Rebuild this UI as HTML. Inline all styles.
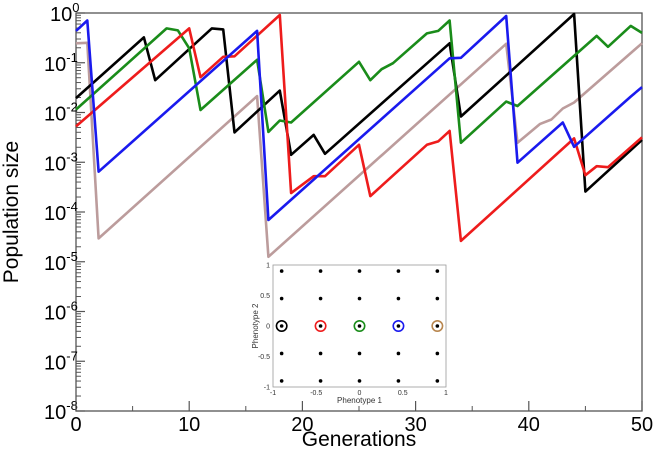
<!DOCTYPE html>
<html><head><meta charset="utf-8"><style>
body{margin:0;background:#fff;}
svg{display:block;font-family:"Liberation Sans",Arial,sans-serif;}
</style></head><body>
<svg id="chart" width="656" height="459" viewBox="0 0 656 459" xmlns="http://www.w3.org/2000/svg">
<g id="axes"></g>
<g id="series"></g>
<g id="inset"></g>
<text x="359" y="446" font-size="21" text-anchor="middle">Generations</text>
<text transform="translate(18,212) rotate(-90)" font-size="21" text-anchor="middle">Population size</text>
</svg>
<script>
// Data: generations and log10(population) breakpoints per series
const blackGen = [0,6,7,12,13,14,18,19,21,22,33,34,44,45,50];
const blackLog = [-1.71,-0.49,-1.35,-0.31,-0.33,-2.4,-1.56,-2.85,-2.45,-2.83,-0.61,-2.08,-0.02,-3.59,-2.55];
const greenGen = [0,8,9,10,11,16,17,18,19,25,26,27,28,31,32,33,34,38,39,46,47,49,50];
const greenLog = [-1.94,-0.31,-0.35,-0.71,-1.95,-0.94,-2.39,-2.16,-2.2,-0.98,-1.35,-1.13,-1.01,-0.41,-0.36,-0.15,-2.61,-1.78,-1.87,-0.46,-0.68,-0.26,-0.4];
const redGen = [0,10,11,13,14,18,19,21,22,25,26,31,32,33,34,44,45,46,47,50];
const redLog = [-2.28,-0.31,-1.29,-0.88,-0.87,-0.04,-3.62,-3.28,-3.28,-2.65,-3.68,-2.65,-2.58,-2.37,-4.58,-2.52,-3.26,-3.08,-3.1,-2.5];
const blueGen = [0,1,2,16,17,33,34,38,39,43,44,49,50];
const blueLog = [-0.36,-0.15,-3.19,-0.36,-4.16,-0.91,-0.9,-0.06,-3.01,-2.2,-2.69,-1.68,-1.49];
const tanGen = [0,1,2,16,17,38,39,41,42,43,44,50];
const tanLog = [-0.61,-0.6,-4.53,-1.67,-4.9,-0.62,-2.61,-2.23,-2.14,-1.92,-1.8,-0.61];
const xTicks = [0,10,20,30,40,50];
const yExps = [0,-1,-2,-3,-4,-5,-6,-7,-8];
const insetTicks = [-1,-0.5,0,0.5,1];
const dotPos = [-0.9,-0.45,0,0.45,0.9];

const NS="http://www.w3.org/2000/svg";
const L=76,R=642,T=13,B=411;
const xs=t=>L+(t/50)*(R-L);
const ys=v=>T+(-v/8)*(B-T);
function mk(tag,attrs,parent){const e=document.createElementNS(NS,tag);for(const k in attrs)e.setAttribute(k,attrs[k]);parent.appendChild(e);return e;}
const axes=document.getElementById('axes');
const frame=mk('rect',{x:L,y:T,width:R-L,height:B-T,fill:'none',stroke:'#555','stroke-width':1.3},axes);


// y ticks
yExps.forEach(e=>{
  const y=ys(e);
  const tk=mk('line',{x1:L,x2:L+9,y1:y,y2:y,stroke:'#555','stroke-width':1.2},axes);
  
  
  const tx=mk('text',{x:L-10,y:y+8,'font-size':20,'text-anchor':'end'},axes);
  
  
  tx.textContent='10';
  const sp=mk('tspan',{dy:-9,'font-size':13},tx);
  sp.textContent=String(e).replace('-','-');
  tx.setAttribute('x',L-26-(e<0?6:0));
  tx.setAttribute('text-anchor','start');
  if(e>-8){for(let m=2;m<=9;m++){const yy=ys(e-1+Math.log10(m));
    const mt=mk('line',{x1:L,x2:L+5,y1:yy,y2:yy,stroke:'#555','stroke-width':1},axes);
    
    }}
});
// x ticks
xTicks.forEach(t=>{
  const x=xs(t);
  const tk=mk('line',{x1:x,x2:x,y1:B,y2:B-10,stroke:'#555','stroke-width':1.2},axes);
  
  
  const tx=mk('text',{x:x,y:B+20,'font-size':20,'text-anchor':'middle'},axes);
  
  
  tx.textContent=t;
  if(t<50){const mx=xs(t+5);const mt=mk('line',{x1:mx,x2:mx,y1:B,y2:B-5,stroke:'#555','stroke-width':1},axes);
    
    }
});
// series
const sg=document.getElementById('series');
const seriesList=[['tan',tanGen,tanLog,'#bc9c9c'],['black',blackGen,blackLog,'#000'],['green',greenGen,greenLog,'#1a8c1a'],['red',redGen,redLog,'#ee1c1c'],['blue',blueGen,blueLog,'#1a1aee']];
seriesList.forEach(([n,g,v,c])=>{
  const d=g.map((t,i)=>(i?'L':'M')+xs(t).toFixed(1)+','+ys(v[i]).toFixed(1)).join('');
  const p=mk('path',{d:d,fill:'none',stroke:c,'stroke-width':2.6,'stroke-linejoin':'round'},sg);
  
  
});
// inset
const ig=document.getElementById('inset');
const IL=273,IR=446,IT=265,IB=387;
const ix=v=>IL+(v+1)/2*(IR-IL), iy=v=>IB-(v+1)/2*(IB-IT);
const bg=mk('rect',{x:IL,y:IT,width:IR-IL,height:IB-IT,fill:'#fff',stroke:'#999','stroke-width':0.8},ig);


insetTicks.forEach(t=>{
  const a=mk('text',{x:ix(t),y:IB+8,'font-size':7,'text-anchor':'middle',fill:'#333'},ig);
  
  
  a.textContent=t;
  const b=mk('text',{x:IL-3,y:iy(t)+2.5,'font-size':7,'text-anchor':'end',fill:'#333'},ig);
  
  
  b.textContent=t;
});
dotPos.forEach(px=>dotPos.forEach(py=>{
  const d=mk('circle',{cx:ix(px),cy:iy(py),r:1.8,fill:'#000'},ig);
  
  
}));
['#000','#ee1c1c','#1a8c1a','#1a1aee','#b8864e'].forEach((c,i)=>{
  const o=mk('circle',{cx:ix(dotPos[i]),cy:iy(0),r:5.2,fill:'none',stroke:c,'stroke-width':1.6},ig);
  
  
});
const xl=mk('text',{x:(IL+IR)/2,y:IB+16,'font-size':8,'text-anchor':'middle',fill:'#333'},ig);


xl.textContent='Phenotype 1';
const yl=mk('text',{transform:`translate(${IL-15},${(IT+IB)/2}) rotate(-90)`,'font-size':8,'text-anchor':'middle',fill:'#333'},ig);


yl.textContent='Phenotype 2';
</script>
</body></html>
